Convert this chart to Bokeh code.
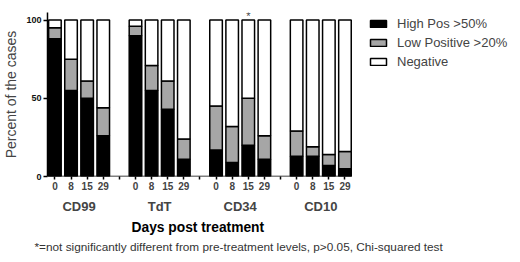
from bokeh.plotting import figure
from bokeh.models import (ColumnDataSource, FixedTicker, LinearAxis, Label, Title,
                          Range1d, Legend, LegendItem)
from bokeh.embed import file_html
from bokeh.resources import INLINE

# ---- data ----
markers = ["CD99", "TdT", "CD34", "CD10"]
days = ["0", "8", "15", "29"]
high_pos = [88, 55, 50, 26,   90, 55, 43, 11,   17, 9, 20, 11,   13, 13, 7, 5]
low_pos = [7, 20, 11, 18,     6, 16, 18, 13,    28, 23, 30, 15,  16, 6, 7, 11]
negative = [5, 25, 39, 56,    4, 29, 39, 76,    55, 68, 50, 74,  71, 81, 86, 84]
series_names = ["High Pos >50%", "Low Positive >20%", "Negative"]
y_ticks = [0, 50, 100]
significant = ("CD34", "15")
x_title = "Days post treatment"
footnote = "*=not significantly different from pre-treatment levels, p>0.05, Chi-squared test"

FONT = "Liberation Sans"
colors = ["#000000", "#a6a6a6", "#ffffff"]

# positions: groups of 4 bars separated by one empty slot
xs, labels = [], {}
for g, m in enumerate(markers):
    for i, d in enumerate(days):
        pos = g * (len(days) + 1) + i
        xs.append(pos)
        labels[pos] = d
n_slots = len(markers) * (len(days) + 1) - 1
for t in range(n_slots):
    labels.setdefault(t, "")

x_start = -0.46
x_axis_end = n_slots - 1 + 0.43
x_frame_end = x_start + 477 / 16.25  # frame spans to the right edge so the legend is visible

src = ColumnDataSource(dict(x=xs, high=high_pos, low=low_pos, neg=negative))

p = figure(width=520, height=262, output_backend="svg", toolbar_location=None,
           x_range=Range1d(x_start, x_frame_end), y_range=Range1d(0, 104.8),
           min_border_left=43, min_border_right=0, min_border_top=12, min_border_bottom=86)
p.outline_line_color = None
p.xgrid.visible = False
p.ygrid.visible = False
p.background_fill_color = "white"
p.border_fill_color = "white"

rs = p.vbar_stack(["high", "low", "neg"], x="x", width=0.78, source=src,
                  fill_color=colors, line_color="black", line_width=1.5)

# x axis line limited to the bar region
p.segment(x0=[x_start], y0=[0], x1=[x_axis_end], y1=[0], line_color="black", line_width=1.5)

# y axis
ya = p.yaxis[0]
ya.ticker = FixedTicker(ticks=y_ticks)
ya.minor_tick_line_color = None
ya.major_tick_out = 4
ya.major_tick_in = 0
ya.major_label_standoff = 2
ya.major_label_text_font = FONT
ya.major_label_text_font_size = "9px"
ya.major_label_text_font_style = "bold"
ya.major_label_text_color = "#111111"
ya.axis_line_width = 1.5
ya.major_tick_line_width = 1.5
ya.axis_label = "Percent of the cases"
ya.axis_label_text_font = FONT
ya.axis_label_text_font_size = "14px"
ya.axis_label_text_font_style = "normal"
ya.axis_label_standoff = 4

# x axis (days)
xa = p.xaxis[0]
xa.ticker = FixedTicker(ticks=list(range(n_slots)))
xa.major_label_overrides = labels
xa.minor_tick_line_color = None
xa.major_tick_out = 3
xa.major_tick_in = 0
xa.major_label_standoff = 2
xa.major_label_text_font = FONT
xa.major_label_text_font_size = "10px"
xa.major_label_text_font_style = "bold"
xa.axis_line_color = None
xa.major_tick_line_width = 1.5

# group axis
centers = [g * (len(days) + 1) + (len(days) - 1) / 2 for g in range(len(markers))]
ga = LinearAxis(ticker=FixedTicker(ticks=centers),
                major_label_overrides={c: m for c, m in zip(centers, markers)})
ga.axis_line_color = None
ga.major_tick_line_color = None
ga.minor_tick_line_color = None
ga.major_tick_out = 0
ga.major_tick_in = 0
ga.major_label_standoff = 6
ga.major_label_text_font = FONT
ga.major_label_text_font_size = "13px"
ga.major_label_text_font_style = "bold"
p.add_layout(ga, "below")

# x title and footnote
tx = Title(text=x_title, align="left", offset=84, standoff=3, text_font=FONT,
           text_font_size="13.8px", text_font_style="bold", text_color="black")
p.add_layout(tx, "below")
t = Title(text=footnote, align="left", offset=-13, standoff=3, text_font=FONT,
          text_font_size="11.8px", text_font_style="normal", text_color="#333333")
p.add_layout(t, "below")

# asterisk
sx = xs[markers.index(significant[0]) * len(days) + days.index(significant[1])]
p.add_layout(Label(x=sx, y=100, y_offset=4, text="*", text_align="center",
                   text_baseline="alphabetic", text_font=FONT, text_font_size="11px"))

# legend
lg = Legend(items=[LegendItem(label=n, renderers=[r]) for n, r in zip(series_names, rs)])
lg.location = (321, 107.5)
lg.glyph_width = 20
lg.glyph_height = 9
lg.label_height = 15
lg.spacing = 4
lg.padding = 0
lg.margin = 0
lg.label_standoff = 9
lg.label_text_font = FONT
lg.label_text_font_size = "13px"
lg.border_line_color = None
lg.background_fill_alpha = 0
p.add_layout(lg, "center")

open("out.html", "w").write(file_html(p, INLINE))
